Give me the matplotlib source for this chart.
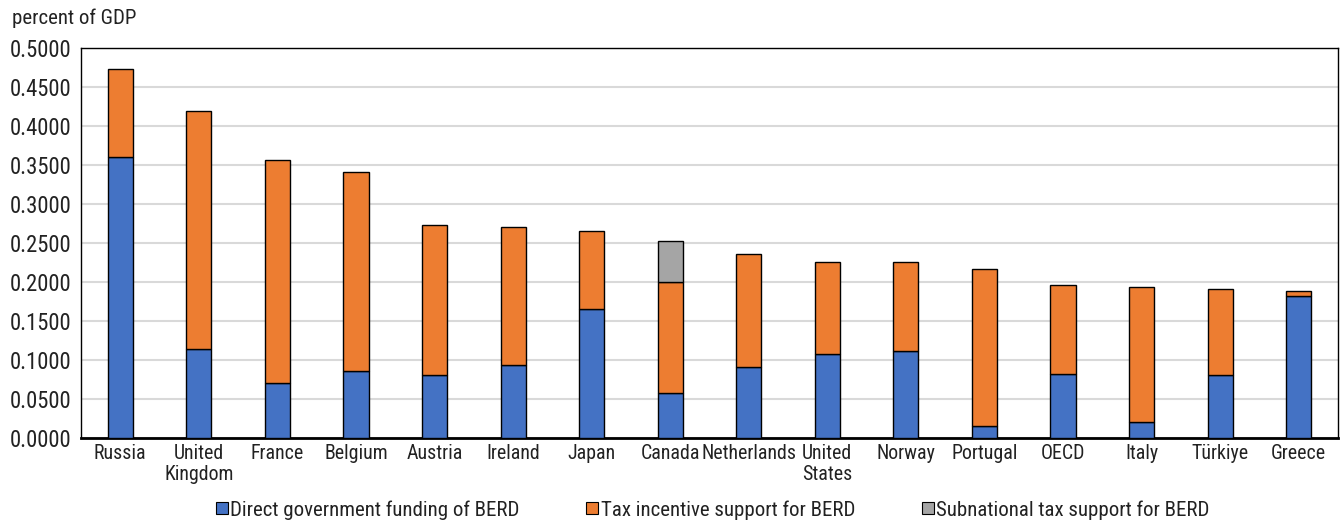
import numpy as np
import matplotlib
matplotlib.use("Agg")
import matplotlib.pyplot as plt
from matplotlib.ticker import FuncFormatter, MultipleLocator
from matplotlib.lines import Line2D

plt.rcParams["font.family"] = ["Roboto Condensed", "DejaVu Sans"]

countries = ["Russia", "United\nKingdom", "France", "Belgium", "Austria", "Ireland",
             "Japan", "Canada", "Netherlands", "United\nStates", "Norway", "Portugal",
             "OECD", "Italy", "Türkiye", "Greece"]
direct = [0.3605, 0.1134, 0.0698, 0.0856, 0.0809, 0.0937, 0.1651, 0.0574,
          0.0911, 0.1070, 0.1117, 0.0154, 0.0813, 0.0205, 0.0804, 0.1814]
tax = [0.1122, 0.3058, 0.2865, 0.2549, 0.1916, 0.1766, 0.0997, 0.1424,
       0.1450, 0.1188, 0.1133, 0.2006, 0.1150, 0.1732, 0.1104, 0.0072]
subnational = [0, 0, 0, 0, 0, 0, 0, 0.0526, 0, 0, 0, 0, 0, 0, 0, 0]
series_names = ["Direct government funding of BERD",
                "Tax incentive support for BERD",
                "Subnational tax support for BERD"]
colors = ["#4472C4", "#ED7D31", "#A5A5A5"]
text_color = "#222222"

fig = plt.figure(figsize=(13.43, 5.25), dpi=100)
ax = fig.add_axes([0.0603, 0.1663, 0.9360, 0.7423])

# stacked bars, zero segments skipped so no empty outlines are drawn
x = np.arange(len(countries))
w = 0.32
bottom = np.zeros(len(countries))
for vals, c in zip([direct, tax, subnational], colors):
    vals = np.array(vals)
    mask = vals > 0
    ax.bar(x[mask], vals[mask], w, bottom=bottom[mask], color=c,
           edgecolor="black", linewidth=1.0, zorder=3)
    bottom += vals

ax.set_xlim(-0.5, len(countries) - 0.5)
ax.set_ylim(0, 0.5)
ax.yaxis.set_major_locator(MultipleLocator(0.05))
ax.yaxis.set_major_formatter(FuncFormatter(lambda v, p: f"{v:.4f}"))
ax.set_xticks(x)
ax.set_xticklabels(countries, fontsize=14.3, linespacing=1.15)
ax.tick_params(axis="y", labelsize=16.3, length=0, pad=7, labelcolor=text_color)
ax.tick_params(axis="x", length=0, pad=4.5, labelcolor=text_color)
ax.grid(axis="y", color="#D9D9D9", linewidth=1.5, zorder=0)
ax.set_axisbelow(True)
for s in ["top", "right", "left"]:
    ax.spines[s].set_linewidth(1.0)
ax.spines["bottom"].set_linewidth(2.0)

fig.text(12 / 1343, 1 - 18 / 525, "percent of GDP", fontsize=15,
         ha="left", va="center", color=text_color)

handles = [Line2D([], [], marker="s", linestyle="none", markersize=9,
                  markerfacecolor=c, markeredgecolor="black", markeredgewidth=0.8)
           for c in colors]
fig.legend(handles, series_names, loc="center", bbox_to_anchor=(0.5305, 1 - 510 / 525),
           ncol=3, frameon=False, fontsize=15, handlelength=0.6, handletextpad=0.1,
           columnspacing=3.2, labelcolor=text_color)

fig.savefig("out.png", dpi=100)
